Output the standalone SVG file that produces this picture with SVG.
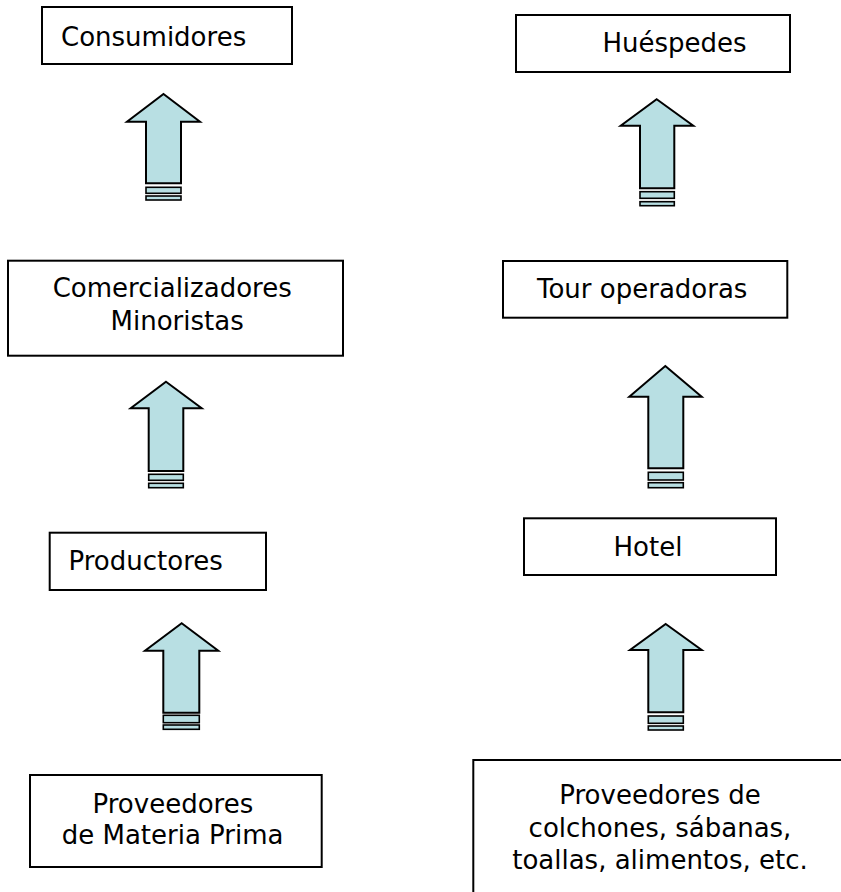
<svg xmlns="http://www.w3.org/2000/svg" width="841" height="892" viewBox="0 0 841 892">
<style>
.box{fill:#ffffff;stroke:#000000;stroke-width:2}
.open{fill:none;stroke:#000000;stroke-width:2}
.lbl{font-family:"DejaVu Sans","Verdana",sans-serif;font-size:26px;fill:#000000}
.arr{fill:#B8DFE3;stroke:#000000;stroke-width:2;stroke-linejoin:miter}
.bar{fill:#B8DFE3;stroke:#000000;stroke-width:1.6}
</style>
<rect width="841" height="892" fill="#ffffff"/>
<g id="connectors">
  <g id="arrow1">
    <path class="arr" d="M163.5,94 L200,121.7 L181,121.7 L181,183.3 L146,183.3 L146,121.7 L127,121.7 Z"/>
    <rect class="bar" x="146" y="187.3" width="35" height="6"/>
    <rect class="bar" x="146" y="196" width="35" height="4"/>
  </g>
  <g id="arrow2">
    <path class="arr" d="M166,381.7 L201.7,408.3 L183.3,408.3 L183.3,471 L148.7,471 L148.7,408.3 L130.7,408.3 Z"/>
    <rect class="bar" x="148.7" y="474.3" width="34.6" height="6"/>
    <rect class="bar" x="148.7" y="483.3" width="34.6" height="4.4"/>
  </g>
  <g id="arrow3">
    <path class="arr" d="M181.7,623.3 L218.3,650.7 L199.3,650.7 L199.3,712.7 L163.3,712.7 L163.3,650.7 L145,650.7 Z"/>
    <rect class="bar" x="163.3" y="715.3" width="36" height="7.4"/>
    <rect class="bar" x="163.3" y="725" width="36" height="4.3"/>
  </g>
  <g id="arrow4">
    <path class="arr" d="M656.7,99.3 L693.3,125.7 L674.3,125.7 L674.3,188.3 L640,188.3 L640,125.7 L620.7,125.7 Z"/>
    <rect class="bar" x="640" y="191.7" width="34.3" height="6.6"/>
    <rect class="bar" x="640" y="201.7" width="34.3" height="4"/>
  </g>
  <g id="arrow5">
    <path class="arr" d="M665.3,366 L701.7,396.7 L683.3,396.7 L683.3,468.3 L648.3,468.3 L648.3,396.7 L629.3,396.7 Z"/>
    <rect class="bar" x="648.3" y="472.3" width="35" height="7.7"/>
    <rect class="bar" x="648.3" y="482.7" width="35" height="5"/>
  </g>
  <g id="arrow6">
    <path class="arr" d="M665.7,624 L701.7,650 L683.3,650 L683.3,712.3 L648.3,712.3 L648.3,650 L630,650 Z"/>
    <rect class="bar" x="648.3" y="716" width="35" height="7.3"/>
    <rect class="bar" x="648.3" y="726" width="35" height="4"/>
  </g>
</g>
<g id="consumidores">
  <rect class="box" x="42" y="7" width="250" height="57"/>
  <text class="lbl" x="61" y="45.5">Consumidores</text>
</g>
<g id="huespedes">
  <rect class="box" x="516" y="15" width="274" height="57"/>
  <text class="lbl" x="602.5" y="52.3">Huéspedes</text>
</g>
<g id="comercializadores">
  <rect class="box" x="8" y="260.7" width="335" height="95"/>
  <text class="lbl" x="52.7" y="297">Comercializadores</text>
  <text class="lbl" x="110.5" y="330">Minoristas</text>
</g>
<g id="touroperadoras">
  <rect class="box" x="503" y="261" width="284.3" height="56.7"/>
  <text class="lbl" x="537" y="298">Tour operadoras</text>
</g>
<g id="productores">
  <rect class="box" x="49.7" y="532.7" width="216.3" height="57.3"/>
  <text class="lbl" x="68.5" y="570">Productores</text>
</g>
<g id="hotel">
  <rect class="box" x="524" y="518.3" width="252" height="56.7"/>
  <text class="lbl" x="613.5" y="555.5">Hotel</text>
</g>
<g id="proveedores-materia">
  <rect class="box" x="30" y="775" width="291.7" height="92"/>
  <text class="lbl" x="92.5" y="813">Proveedores</text>
  <text class="lbl" x="61.7" y="844">de Materia Prima</text>
</g>
<g id="proveedores-hotel">
  <path class="open" d="M473.3,892 L473.3,760 L841,760"/>
  <text class="lbl" x="660" y="804" text-anchor="middle">Proveedores de</text>
  <text class="lbl" x="660" y="836.5" text-anchor="middle">colchones, sábanas,</text>
  <text class="lbl" x="660" y="868.5" text-anchor="middle">toallas, alimentos, etc.</text>
</g>
</svg>
